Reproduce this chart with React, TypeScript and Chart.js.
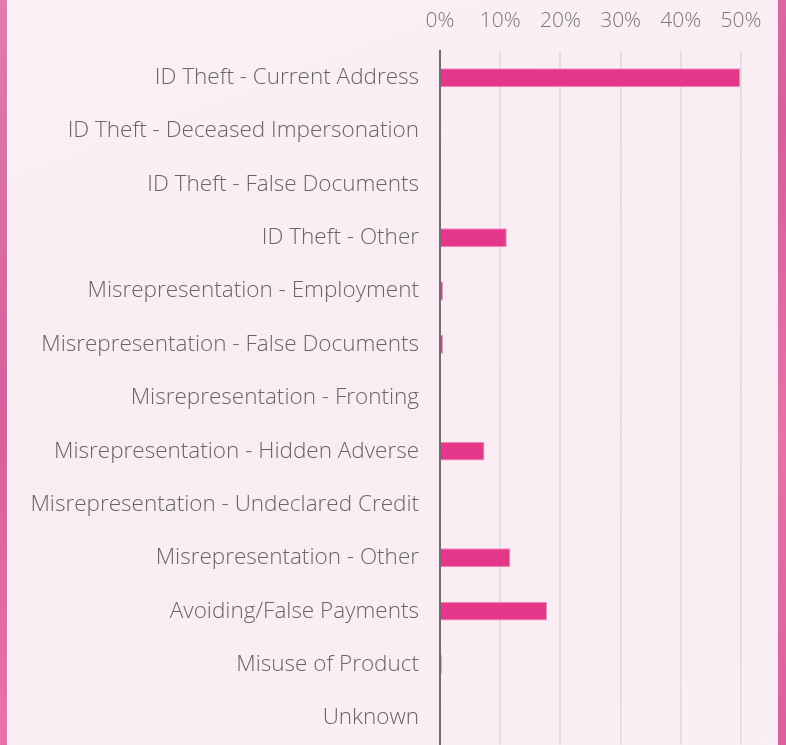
import React, { useEffect, useRef } from "react";
import { Chart, registerables } from "chart.js";

Chart.register(...registerables);

const categories = [
  "ID Theft - Current Address",
  "ID Theft - Deceased Impersonation",
  "ID Theft - False Documents",
  "ID Theft - Other",
  "Misrepresentation - Employment",
  "Misrepresentation - False Documents",
  "Misrepresentation - Fronting",
  "Misrepresentation - Hidden Adverse",
  "Misrepresentation - Undeclared Credit",
  "Misrepresentation - Other",
  "Avoiding/False Payments",
  "Misuse of Product",
  "Unknown",
];

const shares = [49.9, 0.1, 0.1, 11.1, 0.5, 0.5, 0, 7.4, 0, 11.7, 17.8, 0.3, 0];

const tickValues = [0, 10, 20, 30, 40, 50];

export default function App() {
  const ref = useRef<HTMLCanvasElement | null>(null);

  useEffect(() => {
    if (!ref.current) return;
    const tickFont = { family: "'Open Sans'", size: 21, weight: "300" as any };
    const labelFont = { family: "'Open Sans'", size: 22.5, weight: "300" as any };
    const chart = new Chart(ref.current, {
      type: "bar",
      data: {
        labels: categories,
        datasets: [
          {
            data: shares,
            backgroundColor: "#e5378a",
            borderColor: "#f58cbf",
            borderWidth: 1,
            barPercentage: 0.355,
            categoryPercentage: 1,
          },
        ],
      },
      options: {
        indexAxis: "y",
        animation: false,
        responsive: false,
        maintainAspectRatio: false,
        layout: { padding: { left: 0, right: 45, top: 0, bottom: 0 } },
        plugins: { legend: { display: false }, tooltip: { enabled: false } },
        scales: {
          x: {
            position: "top",
            min: 0,
            max: 50,
            afterBuildTicks: (scale: any) => {
              scale.ticks = tickValues.map((v) => ({ value: v }));
            },
            afterFit: (scale: any) => {
              scale.height = 51;
            },
            ticks: {
              color: "#777777",
              font: tickFont,
              padding: 17,
              callback: (v: any) => v + "%",
            },
            grid: { color: "#e2e0e2", lineWidth: 2, drawTicks: false },
            border: { display: false },
          },
          y: {
            afterFit: (scale: any) => {
              scale.width = 440;
            },
            ticks: { color: "#666666", font: labelFont, padding: 21 },
            grid: { display: false, drawTicks: false },
            border: { display: true, color: "#6e6e6e", width: 2 },
          },
        },
      },
    });
    return () => chart.destroy();
  }, []);

  return (
    <div
      style={{
        position: "fixed",
        left: 0,
        top: 0,
        width: 786,
        height: 745,
        background: "linear-gradient(160deg, #e07bb0 0%, #d65f9c 40%, #e871aa 70%, #d9609c 100%)",
        overflow: "hidden",
      }}
    >
      <div
        style={{
          position: "absolute",
          left: 7,
          top: 0,
          width: 771,
          height: 745,
          background: "linear-gradient(160deg, #fbf0f6 0%, #f9edf3 50%, #fbeff5 100%)",
        }}
      />
      <canvas
        ref={ref}
        width={786}
        height={779}
        style={{ position: "absolute", left: 0, top: 0, width: 786, height: 779 }}
      />
    </div>
  );
}
